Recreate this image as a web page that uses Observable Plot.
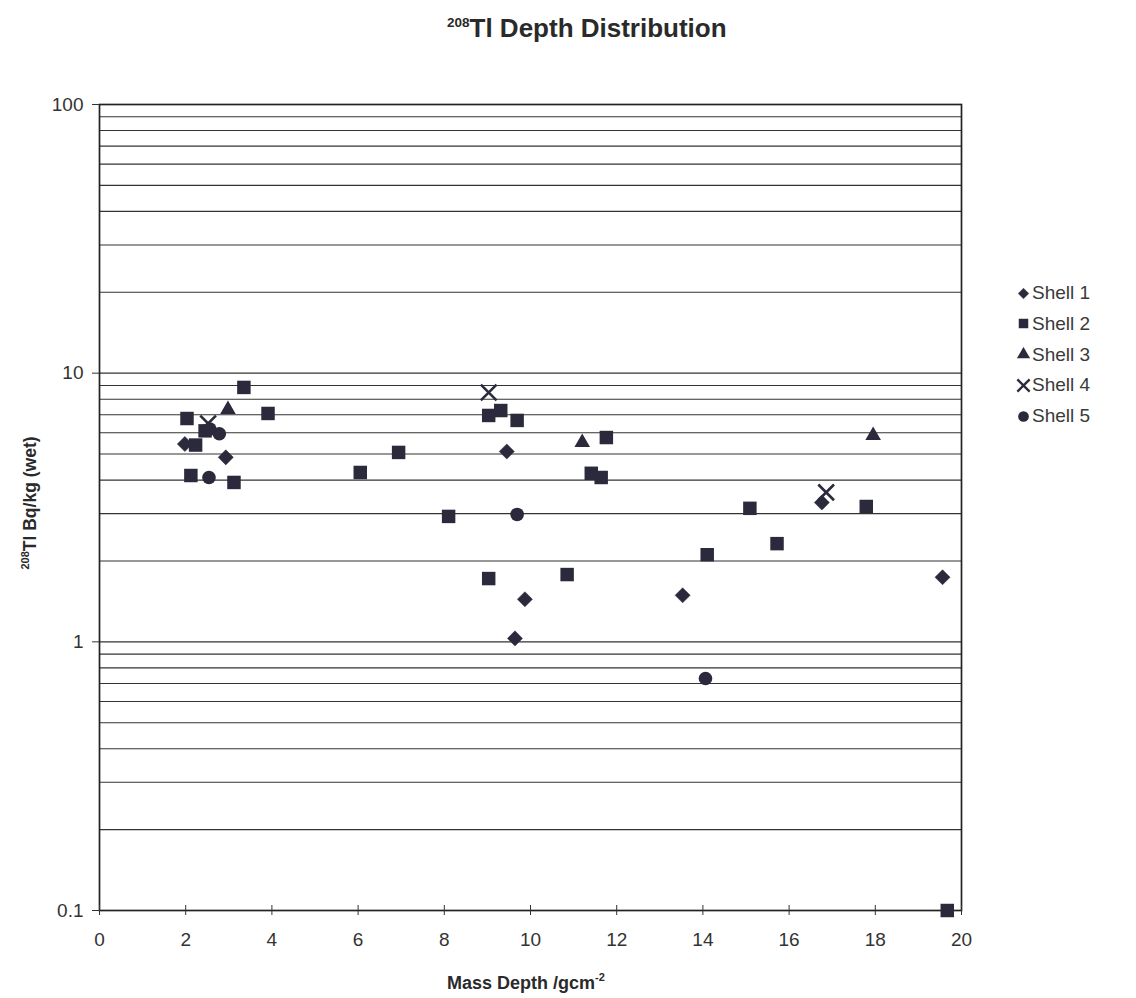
<!DOCTYPE html>
<html>
<head>
<meta charset="utf-8">
<script src="https://cdn.jsdelivr.net/npm/d3@7"></script>
<script src="https://cdn.jsdelivr.net/npm/@observablehq/plot@0.6"></script>
<style>
  body { margin: 0; background: #fff; font-family: "Liberation Sans", Arial, sans-serif; }
  #wrap { position: relative; width: 1136px; height: 998px; overflow: hidden; }
  #chart { position: absolute; left: 0; top: 0; }
  .txt { position: absolute; white-space: nowrap; color: #2a2a2a; }
  #title { left: 447px; top: 13px; font-size: 26px; font-weight: bold; line-height: 30px; }
  #title sup { font-size: 13.5px; vertical-align: 10px; line-height: 0; }
  #xlabel { left: 447px; top: 972px; font-size: 18px; font-weight: bold; line-height: 22px; }
  #xlabel sup { font-size: 11px; vertical-align: 8px; line-height: 0; }
  #ylabel { left: 30px; top: 503px; font-size: 17.5px; font-weight: bold; line-height: 22px;
            transform: translate(-50%, -50%) rotate(-90deg); }
  #ylabel sup { font-size: 11px; vertical-align: 7px; line-height: 0; }
  .leg { position: absolute; display: flex; align-items: center; font-size: 19px; color: #3a3a3a; line-height: 22px; }
  .leg svg { margin-right: 1px; }
</style>
</head>
<body>
<div id="wrap">
  <div id="chart"></div>
  <div id="title" class="txt"><sup>208</sup>Tl Depth Distribution</div>
  <div id="xlabel" class="txt">Mass Depth /gcm<sup>-2</sup></div>
  <div id="ylabel" class="txt"><sup>208</sup>Tl Bq/kg (wet)</div>
</div>
<script>
// ---- data ----
const shellNames = ["Shell 1", "Shell 2", "Shell 3", "Shell 4", "Shell 5"];

const shell1Depth    = [1.98, 2.93, 9.45, 9.87, 9.64, 13.53, 16.76, 19.56];
const shell1Activity = [5.45, 4.86, 5.11, 1.44, 1.03, 1.49, 3.3, 1.74];

const shell2Depth    = [2.03, 2.12, 2.23, 2.45, 3.12, 3.35, 3.91, 6.05, 6.94, 8.1, 9.03, 9.31, 9.69, 9.03, 10.85, 11.41, 11.64, 11.76, 14.1, 15.09, 15.72, 17.79, 19.67];
const shell2Activity = [6.78, 4.16, 5.4, 6.1, 3.92, 8.85, 7.08, 4.27, 5.07, 2.93, 6.96, 7.26, 6.67, 1.72, 1.78, 4.24, 4.09, 5.76, 2.11, 3.14, 2.32, 3.19, 0.1];

const shell3Depth    = [2.98, 11.2, 17.95];
const shell3Activity = [7.33, 5.52, 5.86];

const shell4Depth    = [2.52, 9.03, 16.86];
const shell4Activity = [6.5, 8.47, 3.6];

const shell5Depth    = [2.56, 2.78, 2.54, 9.69, 14.06];
const shell5Activity = [6.2, 5.95, 4.09, 2.98, 0.73];

const xTickValues = [0, 2, 4, 6, 8, 10, 12, 14, 16, 18, 20];
const yTickValues = [0.1, 1, 10, 100];
const yGridValues = [0.1, 0.2, 0.3, 0.4, 0.5, 0.6, 0.7, 0.8, 0.9,
                     1, 2, 3, 4, 5, 6, 7, 8, 9,
                     10, 20, 30, 40, 50, 60, 70, 80, 90, 100];

// ---- build tables ----
const toRows = (xs, ys) => xs.map((x, i) => ({depth: x, activity: ys[i]}));
const rows1 = toRows(shell1Depth, shell1Activity);
const rows2 = toRows(shell2Depth, shell2Activity);
const rows3 = toRows(shell3Depth, shell3Activity);
const rows4 = toRows(shell4Depth, shell4Activity);
const rows5 = toRows(shell5Depth, shell5Activity);

const ink = "#2a2a3c";

const chart = Plot.plot({
  width: 1136,
  height: 998,
  marginTop: 104,
  marginBottom: 88,
  marginLeft: 99,
  marginRight: 175,
  style: { fontFamily: "Liberation Sans, Arial, sans-serif", fontSize: "19px", color: "#333", background: "transparent" },
  x: { domain: [0, 20] },
  y: { type: "log", domain: [0.1, 100] },
  marks: [
    Plot.ruleY(yGridValues, { stroke: "#333", strokeWidth: 1.1 }),
    Plot.frame({ stroke: "#222", strokeWidth: 1.7 }),
    Plot.axisY({ ticks: yTickValues, tickFormat: d => String(d), tickSize: 7, tickPadding: 9, label: null }),
    Plot.axisX({ ticks: xTickValues, tickSize: 5, tickPadding: 17, label: null }),
    Plot.axisX({ ticks: xTickValues, tickSize: -5, tickFormat: () => "", label: null }),
    Plot.dot(rows1, { x: "depth", y: "activity", symbol: "diamond2", r: 6.8, fill: ink, stroke: ink, strokeWidth: 0.5 }),
    Plot.dot(rows2, { x: "depth", y: "activity", symbol: "square", r: 7.6, fill: ink, stroke: "none" }),
    Plot.dot(rows3, { x: "depth", y: "activity", symbol: "triangle", r: 5.8, fill: ink, stroke: "none" }),
    Plot.dot(rows4, { x: "depth", y: "activity", symbol: "times", r: 7.2, fill: "none", stroke: ink, strokeWidth: 2.6 }),
    Plot.dot(rows5, { x: "depth", y: "activity", symbol: "circle", r: 6.8, fill: ink, stroke: "none" })
  ]
});
document.getElementById("chart").appendChild(chart);

// ---- legend ----
const legendSymbols = [
  { type: d3.symbolDiamond2, size: 70, fill: ink, stroke: ink, sw: 0.5 },
  { type: d3.symbolSquare, size: 90, fill: ink, stroke: "none", sw: 0 },
  { type: d3.symbolTriangle, size: 75, fill: ink, stroke: "none", sw: 0 },
  { type: d3.symbolTimes, size: 100, fill: "none", stroke: ink, sw: 2.3 },
  { type: d3.symbolCircle, size: 90, fill: ink, stroke: "none", sw: 0 }
];
const wrap = document.getElementById("wrap");
shellNames.forEach((name, i) => {
  const s = legendSymbols[i];
  const div = document.createElement("div");
  div.className = "leg";
  div.style.left = "1016px";
  div.style.top = (282 + i * 30.8) + "px";
  const path = d3.symbol(s.type, s.size)();
  div.innerHTML = `<svg width="15" height="15" viewBox="-7.5 -7.5 15 15"><path d="${path}" fill="${s.fill}" stroke="${s.stroke}" stroke-width="${s.sw}"/></svg><span>${name}</span>`;
  wrap.appendChild(div);
});
</script>
</body>
</html>
